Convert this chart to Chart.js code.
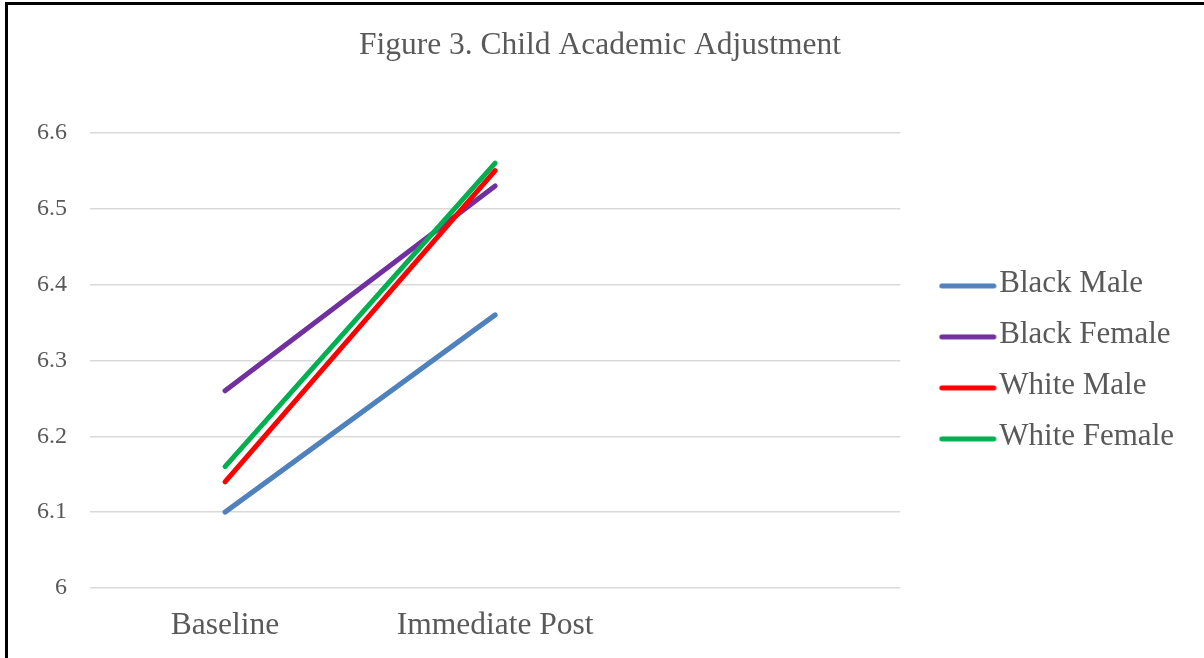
<!DOCTYPE html>
<html>
<head>
<meta charset="utf-8">
<title>Figure 3. Child Academic Adjustment</title>
<script src="https://cdn.jsdelivr.net/npm/chart.js@4/dist/chart.umd.min.js"></script>
<style>
  html, body { margin: 0; padding: 0; background: #ffffff; }
  #wrap { position: relative; width: 1204px; height: 658px; overflow: hidden; }
  #frame { position: absolute; left: 5px; top: 2px; right: -10px; bottom: -10px;
           border-top: 3px solid #000; border-left: 3px solid #000; pointer-events: none; }
  canvas { display: block; }
</style>
</head>
<body>
<div id="wrap">
  <canvas id="chart" width="1204" height="658"></canvas>
  <div id="frame"></div>
</div>
<script>
// Time points (third slot left empty, as in the source layout)
const categories = ['Baseline', 'Immediate Post', ''];

// Mean academic adjustment scores by group
const blackMale   = [6.10, 6.36];
const blackFemale = [6.26, 6.53];
const whiteMale   = [6.14, 6.55];
const whiteFemale = [6.16, 6.56];

const seriesNames  = ['Black Male', 'Black Female', 'White Male', 'White Female'];
const seriesColors = ['#4f81bd', '#7030a0', '#ff0000', '#00b050'];

// Y axis range and spacing
const yMin = 6, yMax = 6.6, yStep = 0.1;

const FONT = '"Liberation Serif", "Times New Roman", serif';
const TEXT = '#595959';

// Legend swatch: a short rounded line, offset to the right inside its box
const SWATCH_BOX = 63.5;
function swatch(color) {
  const c = document.createElement('canvas');
  const half = 15.75 + 28.5 + 4;
  c.width = Math.ceil(half * 2);
  c.height = 12;
  const g = c.getContext('2d');
  const cx = c.width / 2 + 15.75;
  g.strokeStyle = color;
  g.lineWidth = 5;
  g.lineCap = 'round';
  g.beginPath();
  g.moveTo(cx - 26, 8);
  g.lineTo(cx + 26, 8);
  g.stroke();
  return c;
}

const seriesData = [blackMale, blackFemale, whiteMale, whiteFemale];
const datasets = seriesData.map((d, i) => ({
  label: seriesNames[i],
  data: d,
  borderColor: seriesColors[i],
  backgroundColor: seriesColors[i],
  borderWidth: 5,
  borderCapStyle: 'round',
  pointRadius: 0,
  pointHoverRadius: 0,
  pointStyle: swatch(seriesColors[i]),
  fill: false,
  tension: 0,
  order: seriesData.length - i
}));

new Chart(document.getElementById('chart'), {
  type: 'line',
  data: { labels: categories, datasets },
  options: {
    responsive: false,
    animation: false,
    events: [],
    layout: { padding: { left: 16, right: 20, top: 0, bottom: 0 } },
    plugins: {
      title: {
        display: true,
        text: 'Figure 3. Child Academic Adjustment',
        color: TEXT,
        font: { family: FONT, size: 31.5, weight: 'normal' },
        padding: { top: 27, bottom: 68 }
      },
      legend: {
        position: 'right',
        fullSize: false,
        labels: {
          usePointStyle: true,
          pointStyleWidth: SWATCH_BOX,
          color: TEXT,
          font: { family: FONT, size: 31 },
          padding: 20,
          sort: (a, b) => a.datasetIndex - b.datasetIndex
        }
      },
      tooltip: { enabled: false }
    },
    scales: {
      x: {
        offset: true,
        grid: { display: false, drawTicks: false },
        border: { display: false },
        ticks: { color: TEXT, font: { family: FONT, size: 31.5 }, padding: 19, maxRotation: 0 },
        afterFit: (s) => { s.height = 70; }
      },
      y: {
        min: yMin,
        max: yMax,
        grid: { color: '#d9d9d9', lineWidth: 1.5, drawTicks: false },
        border: { display: false },
        ticks: {
          stepSize: yStep,
          color: TEXT,
          font: { family: FONT, size: 24 },
          padding: 23,
          callback: (v) => String(Number(v.toFixed(1)))
        },
        afterFit: (s) => { s.width = 74; }
      }
    }
  }
});
</script>
</body>
</html>
